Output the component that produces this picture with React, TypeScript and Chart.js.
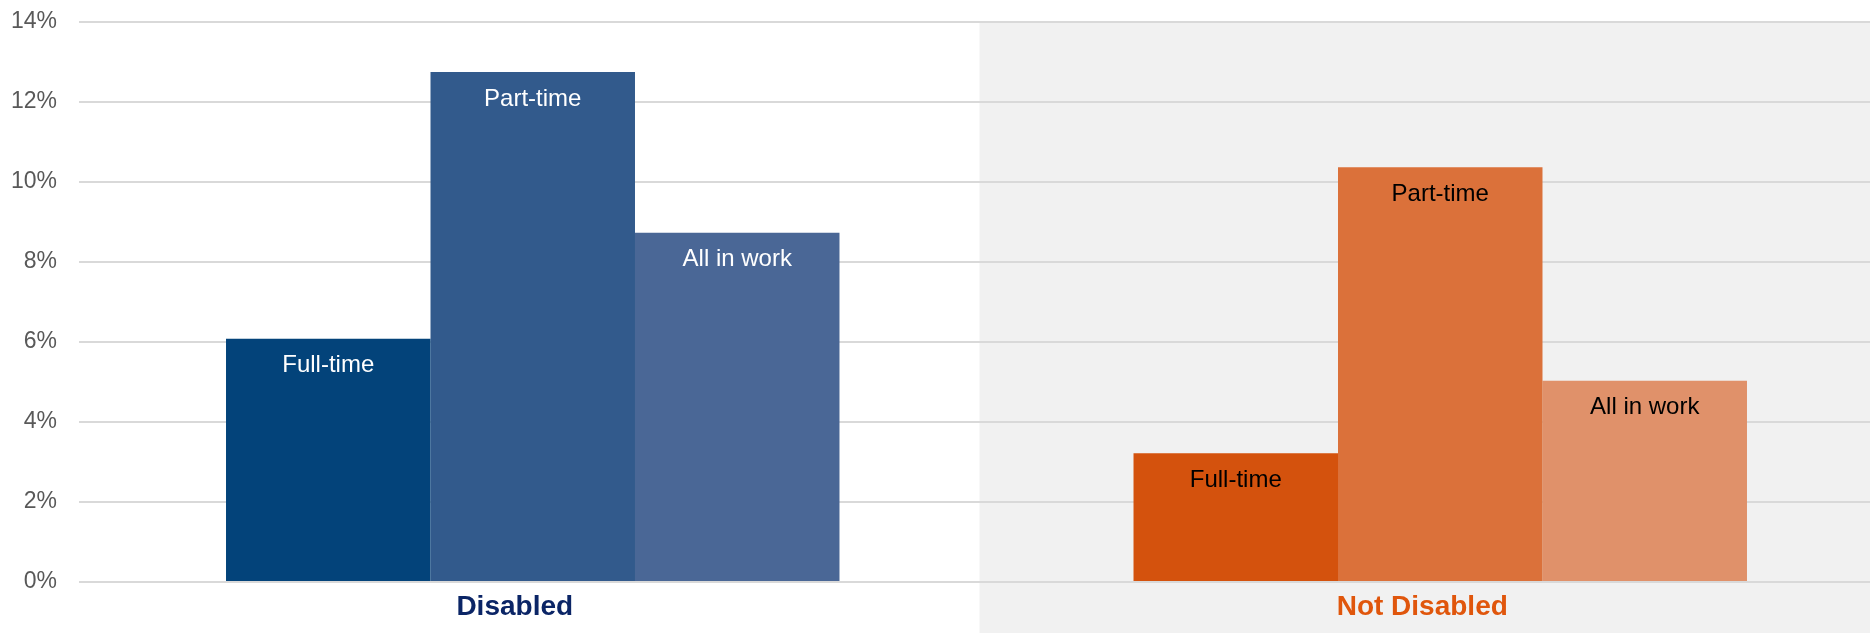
import React, { useEffect, useRef } from "react";
import { Chart, registerables } from "chart.js";

Chart.register(...registerables);

const categories = ["Disabled", "Not Disabled"];
const seriesNames = ["Full-time", "Part-time", "All in work"];
const fullTime = [6.08, 3.22];
const partTime = [12.75, 10.37];
const allInWork = [8.73, 5.03];
const yTicks = [0, 2, 4, 6, 8, 10, 12, 14];

const blueColors = ["#03437A", "#325A8C", "#4A6796"];
const orangeColors = ["#D4520D", "#DB713A", "#E0916A"];
const categoryColors = ["#0B2566", "#E0560C"];
const labelColors = ["#FFFFFF", "#000000"];

const FONT = "'Liberation Sans', Arial, sans-serif";

const bgPlugin = {
  id: "bgBand",
  beforeDraw(chart: any) {
    const { ctx, chartArea, scales } = chart;
    const x = scales.x;
    const boundary = (x.getPixelForValue(0) + x.getPixelForValue(1)) / 2 - 7;
    ctx.save();
    ctx.fillStyle = "#F1F1F1";
    ctx.fillRect(boundary, chartArea.top + 1, chart.width - boundary, chart.height - chartArea.top);
    ctx.restore();
  },
};

const labelPlugin = {
  id: "barLabels",
  afterDatasetsDraw(chart: any) {
    const { ctx } = chart;
    ctx.save();
    ctx.font = `24px ${FONT}`;
    ctx.textAlign = "center";
    ctx.textBaseline = "middle";
    chart.data.datasets.forEach((ds: any, di: number) => {
      const meta = chart.getDatasetMeta(di);
      meta.data.forEach((el: any, i: number) => {
        ctx.fillStyle = labelColors[i];
        ctx.fillText(ds.label, el.x, el.y + 27);
      });
    });
    ctx.restore();
  },
};

export default function App() {
  const ref = useRef<HTMLCanvasElement>(null);
  useEffect(() => {
    if (!ref.current) return;
    const values = [fullTime, partTime, allInWork];
    const chart = new Chart(ref.current, {
      type: "bar",
      data: {
        labels: categories,
        datasets: seriesNames.map((name, k) => ({
          label: name,
          data: values[k],
          backgroundColor: [blueColors[k], orangeColors[k]],
          borderWidth: 0,
          categoryPercentage: 0.676,
          barPercentage: 1.0,
        })),
      },
      options: {
        responsive: false,
        animation: false,
        layout: { padding: { top: 22, left: 0, right: 0, bottom: 0 } },
        plugins: {
          legend: { display: false },
          tooltip: { enabled: false },
        },
        scales: {
          x: {
            grid: { display: false },
            border: { display: false },
            ticks: {
              color: (c: any) => categoryColors[c.index] || "#000",
              font: { family: FONT, size: 28, weight: "bold" },
              padding: 0,
              labelOffset: -18,
              maxRotation: 0,
            },
            afterFit: (s: any) => {
              s.height = 51;
              s.paddingLeft = 0;
              s.paddingRight = 0;
            },
          },
          y: {
            min: yTicks[0],
            max: yTicks[yTicks.length - 1],
            afterBuildTicks: (s: any) => {
              s.ticks = yTicks.map((v) => ({ value: v }));
            },
            ticks: {
              color: "#595959",
              font: { family: FONT, size: 23 },
              padding: 22,
              callback: (v: any) => `${v}%`,
            },
            grid: { color: "#D9D9D9", lineWidth: 2, drawTicks: false },
            border: { display: false },
            afterFit: (s: any) => {
              s.width = 79;
              s.paddingTop = 0;
              s.paddingBottom = 0;
            },
          },
        },
      },
      plugins: [bgPlugin, labelPlugin],
    });
    return () => chart.destroy();
  }, []);

  return (
    <div
      style={{
        position: "fixed",
        left: 0,
        top: 0,
        width: 1870,
        height: 633,
        overflow: "hidden",
        background: "#FFFFFF",
      }}
    >
      <canvas ref={ref} width={1894} height={633} style={{ display: "block" }} />
    </div>
  );
}
